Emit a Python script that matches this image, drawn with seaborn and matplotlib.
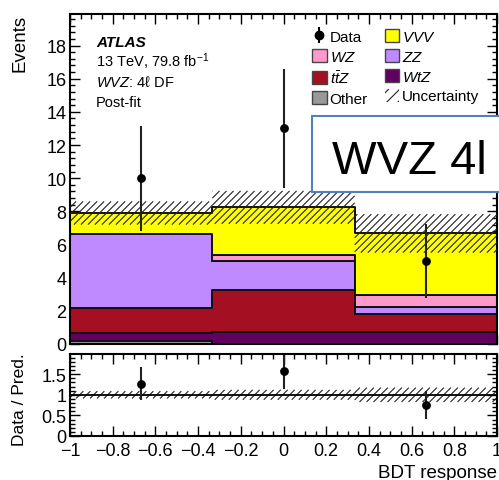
import numpy as np
import pandas as pd
import matplotlib
matplotlib.use("Agg")
import matplotlib.pyplot as plt
from matplotlib.patches import Patch, Rectangle
from matplotlib.lines import Line2D
from matplotlib.collections import LineCollection
from matplotlib.ticker import MultipleLocator, FuncFormatter
import seaborn as sns

# ---- binning and yields (post-fit) ----
bin_edges = [-1.0, -1.0 / 3.0, 1.0 / 3.0, 1.0]
bin_centers = [-2.0 / 3.0, 0.0, 2.0 / 3.0]

# stack order, top of the stack first
processes = ["VVV", "WZ", "ZZ", "ttZ", "WtZ", "Other"]
vvv = [1.28, 2.89, 3.74]
wz = [0.00, 0.36, 0.71]
zz = [4.44, 1.72, 0.44]
ttz = [1.53, 2.52, 1.07]
wtz = [0.45, 0.75, 0.71]
other = [0.20, 0.00, 0.00]
bkg_unc = [0.70, 0.99, 1.16]
data_obs = [10, 13, 5]

x_ticks = [-1.0, -0.8, -0.6, -0.4, -0.2, 0.0, 0.2, 0.4, 0.6, 0.8, 1.0]

colors = {
    "VVV": "#ffff00",
    "WZ": "#ff99cc",
    "ZZ": "#c08aff",
    "ttZ": "#a50f22",
    "WtZ": "#620062",
    "Other": "#999999",
}
labels = {
    "VVV": "$VVV$",
    "WZ": "$WZ$",
    "ZZ": "$ZZ$",
    "ttZ": r"$t\bar{t}Z$",
    "WtZ": "$WtZ$",
    "Other": "Other",
}

sns.set_theme(style="ticks")
plt.rcParams["font.family"] = ["Liberation Sans", "DejaVu Sans"]
plt.rcParams["mathtext.fontset"] = "custom"
plt.rcParams["mathtext.rm"] = "Liberation Sans"
plt.rcParams["mathtext.it"] = "Liberation Sans:italic"
plt.rcParams["mathtext.bf"] = "Liberation Sans:bold"
plt.rcParams["hatch.linewidth"] = 0.8
plt.rcParams["axes.unicode_minus"] = True
for key in ("text.color", "axes.labelcolor", "xtick.color", "ytick.color",
            "axes.edgecolor"):
    plt.rcParams[key] = "black"

W, H = 499, 481
fig = plt.figure(figsize=(W / 100, H / 100), dpi=100)
fig.patch.set_facecolor("white")

MAIN_BOX = (70, 15, 497, 345)     # left, top, right, bottom in pixels
RATIO_BOX = (70, 355, 497, 437)
MAIN_YMAX, RATIO_YMAX = 19.9, 1.99


def px_rect(left, top, right, bottom):
    return [left / W, 1 - bottom / H, (right - left) / W, (bottom - top) / H]


main_rect = px_rect(*MAIN_BOX)
ax = fig.add_axes(main_rect)
rax = fig.add_axes(px_rect(*RATIO_BOX))
# transparent layer above the stack for the band and the data
top = fig.add_axes(main_rect, sharex=ax, sharey=ax)
top.patch.set_visible(False)
top.axis("off")
top.set_zorder(ax.get_zorder() + 1)


def hatch_band(target, lower, upper, box, ymax, spacing_px=7.0,
               color="#222222", lw=0.8, zorder=2):
    """Diagonal '/' hatching of the per-bin band [lower, upper]."""
    px_x = (box[2] - box[0]) / 2.0
    px_y = (box[3] - box[1]) / ymax
    slope = px_x / px_y            # 45 degrees on screen
    step = spacing_px / px_x
    segs = []
    for x0, x1, y0, y1 in zip(bin_edges[:-1], bin_edges[1:], lower, upper):
        c_lo = x0 - y1 / slope
        c_hi = x1 - y0 / slope
        for c in np.arange(np.floor(c_lo / step) * step, c_hi + step, step):
            xa = max(x0, c + y0 / slope)
            xb = min(x1, c + y1 / slope)
            if xb > xa:
                segs.append([(xa, slope * (xa - c)), (xb, slope * (xb - c))])
    target.add_collection(LineCollection(segs, colors=color, linewidths=lw,
                                         zorder=zorder), autolim=False)


# ---- stacked backgrounds ----
yields = {"VVV": vvv, "WZ": wz, "ZZ": zz, "ttZ": ttz, "WtZ": wtz, "Other": other}
df = pd.DataFrame({
    "bdt": np.tile(bin_centers, len(processes)),
    "process": np.repeat(processes, len(bin_centers)),
    "events": np.concatenate([yields[p] for p in processes]),
})
sns.histplot(data=df, x="bdt", weights="events", hue="process",
             hue_order=processes, palette=colors, multiple="stack",
             bins=bin_edges, element="step", fill=True, alpha=1,
             edgecolor="#111111", linewidth=1.4, legend=False, ax=ax)

total = np.sum([yields[p] for p in processes], axis=0)
unc = np.asarray(bkg_unc)

# hatched uncertainty band
hatch_band(top, total - unc, total + unc, MAIN_BOX, MAIN_YMAX)

# ---- data ----
data = np.asarray(data_obs, dtype=float)
top.errorbar(bin_centers, data, yerr=np.sqrt(data), fmt="none",
             ecolor="#222222", elinewidth=1.5, capsize=0, zorder=3)
sns.scatterplot(x=bin_centers, y=data, color="black", s=40,
                linewidth=0, zorder=4, ax=top)

# ---- ratio panel ----
ratio = data / total
ratio_err = np.sqrt(data) / total
rel_unc = unc / total
hatch_band(rax, 1 - rel_unc, 1 + rel_unc, RATIO_BOX, RATIO_YMAX)
rax.axhline(1.0, color="black", linewidth=1.3, zorder=3)
rax.errorbar(bin_centers, ratio, yerr=ratio_err, fmt="none",
             ecolor="#222222", elinewidth=1.5, capsize=0, zorder=4)
sns.scatterplot(x=bin_centers, y=ratio, color="black", s=40,
                linewidth=0, zorder=5, ax=rax)

# ---- axes styling ----
fmt = FuncFormatter(lambda v, pos: ("%g" % v).replace("-", "\u2212"))
for a in (ax, rax):
    a.set_xlim(-1, 1)
    a.set_xticks(x_ticks)
    a.xaxis.set_minor_locator(MultipleLocator(0.05))
    a.tick_params(which="both", direction="in", top=True, right=True,
                  width=1.0, colors="black", labelsize=13, pad=2.5)
    a.tick_params(which="major", length=7)
    a.tick_params(which="minor", length=3.5)
    a.xaxis.set_major_formatter(fmt)
    a.yaxis.set_major_formatter(fmt)
    a.set_xlabel("")
    a.set_ylabel("")
    for s in a.spines.values():
        s.set_linewidth(1.5)
        s.set_color("black")
        s.set_zorder(7)

ax.set_ylim(0, MAIN_YMAX)
ax.yaxis.set_major_locator(MultipleLocator(2))
ax.yaxis.set_minor_locator(MultipleLocator(0.4))
ax.tick_params(labelbottom=False)

rax.set_ylim(0, RATIO_YMAX)
rax.yaxis.set_major_locator(MultipleLocator(0.5))
rax.yaxis.set_minor_locator(MultipleLocator(0.1))
rax.tick_params(axis="x", pad=4)

fig.text(20 / W, 1 - 15 / H, "Events", rotation=90, ha="center", va="top",
         fontsize=13.5)
fig.text(20 / W, 1 - 400 / H, "Data / Pred.", rotation=90, ha="center",
         va="center", fontsize=12.5)
fig.text(497 / W, 1 - 465 / H, "BDT response", ha="right", va="top",
         fontsize=13.5)

# ---- labels ----
fig.text(96 / W, 1 - 47 / H, "ATLAS", fontsize=11, fontweight="bold",
         fontstyle="italic", va="baseline")
fig.text(96 / W, 1 - 67 / H, "13 TeV, 79.8 fb$^{-1}$", fontsize=10.5,
         va="baseline")
fig.text(96 / W, 1 - 87 / H, "$WVZ$: 4\u2113 DF", fontsize=10.5,
         va="baseline")
fig.text(96 / W, 1 - 107 / H, "Post-fit", fontsize=10.5, va="baseline")

# ---- legend ----
data_handle = (Line2D([0], [0], color="black", marker="|", markersize=11,
                      markeredgewidth=1.5, linestyle="none"),
               Line2D([0], [0], color="black", marker="o", markersize=6,
                      linestyle="none"))


def box(p):
    return Patch(facecolor=colors[p], edgecolor="#444444", linewidth=1.0)


unc_handle = Patch(facecolor="none", edgecolor="#222222", hatch="///",
                   linewidth=0)
handles = [data_handle, box("WZ"), box("ttZ"), box("Other"),
           box("VVV"), box("ZZ"), box("WtZ"), unc_handle]
leg_labels = ["Data", labels["WZ"], labels["ttZ"], labels["Other"],
              labels["VVV"], labels["ZZ"], labels["WtZ"], "Uncertainty"]
top.legend(handles, leg_labels, ncol=2, loc="upper left",
           bbox_to_anchor=(312 / W, 1 - 30 / H),
           bbox_transform=fig.transFigure, frameon=False, fontsize=11,
           handlelength=0.95, handleheight=0.95, handletextpad=0.2,
           labelspacing=0.33, columnspacing=1.1, borderpad=0,
           borderaxespad=0)

# ---- channel tag ----
fig.patches.append(Rectangle((312 / W, 1 - 193 / H), 200 / W, 76 / H,
                             transform=fig.transFigure, facecolor="white",
                             edgecolor="#4f81bd", linewidth=1.5,
                             zorder=10, clip_on=False))
fig.text(332 / W, 1 - 174 / H, "WVZ 4l", fontsize=34, va="baseline",
         zorder=11)

fig.savefig("out.png", dpi=100)
